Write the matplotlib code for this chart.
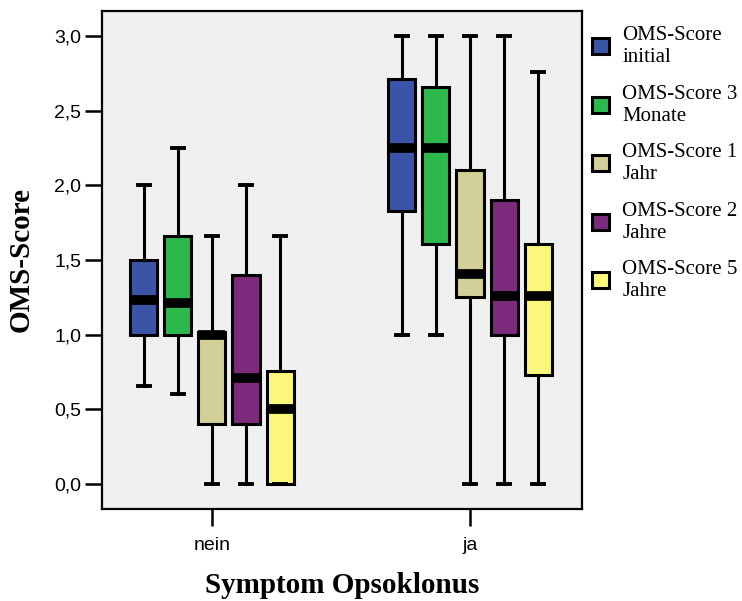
import matplotlib
matplotlib.use("Agg")
import matplotlib.pyplot as plt
from matplotlib.patches import Patch

groups = ["nein", "ja"]
series = ["OMS-Score\ninitial", "OMS-Score 3\nMonate", "OMS-Score 1\nJahr",
          "OMS-Score 2\nJahre", "OMS-Score 5\nJahre"]
colors = ["#3a55a8", "#2db84b", "#d3cf98", "#7b2a7c", "#faf77a"]

# box stats per group: (whislo, q1, median, q3, whishi) for each series
nein_stats = [
    (0.66, 1.00, 1.23, 1.50, 2.00),
    (0.60, 1.00, 1.21, 1.66, 2.25),
    (0.00, 0.40, 1.00, 1.02, 1.66),
    (0.00, 0.40, 0.71, 1.40, 2.00),
    (0.00, 0.00, 0.50, 0.76, 1.66),
]
ja_stats = [
    (1.00, 1.83, 2.25, 2.71, 3.00),
    (1.00, 1.61, 2.25, 2.66, 3.00),
    (0.00, 1.25, 1.41, 2.10, 3.00),
    (0.00, 1.00, 1.26, 1.90, 3.00),
    (0.00, 0.73, 1.26, 1.61, 2.76),
]
yticks = [0.0, 0.5, 1.0, 1.5, 2.0, 2.5, 3.0]

fig = plt.figure(figsize=(7.42, 6.01), dpi=100)
ax = fig.add_axes([102 / 742, 1 - 509 / 601, 480 / 742, 498 / 601])
ax.set_facecolor("#f0f0f0")

step = 0.132
width = 0.105
for gi, stats in enumerate([nein_stats, ja_stats]):
    for si, (lo, q1, med, q3, hi) in enumerate(stats):
        pos = gi + (si - 2) * step
        d = dict(whislo=lo, q1=q1, med=med, q3=q3, whishi=hi, fliers=[])
        bp = ax.bxp([d], positions=[pos], widths=width, patch_artist=True,
                    showfliers=False, capwidths=[0.045],
                    boxprops=dict(facecolor=colors[si], edgecolor="black", linewidth=2.2),
                    whiskerprops=dict(color="black", linewidth=2.2),
                    capprops=dict(color="black", linewidth=2.8),
                    medianprops=dict(color="black", linewidth=7, solid_capstyle="butt"))

ax.set_xlim(-0.426, 1.434)
ax.set_ylim(-0.167, 3.168)
ax.set_xticks([0, 1])
ax.set_xticklabels(groups, fontsize=14, family="Liberation Sans")
ax.set_yticks(yticks)
ax.set_yticklabels([f"{v:.1f}".replace(".", ",") for v in yticks],
                   fontsize=14, family="Liberation Sans")
ax.tick_params(axis="both", length=12, width=1.8, color="black", pad=3)
ax.tick_params(axis="x", pad=8)
for s in ax.spines.values():
    s.set_linewidth(1.6)

ax.set_ylabel("OMS-Score", fontsize=21, fontweight="bold", family="Liberation Serif",
              labelpad=14)
ax.set_xlabel("Symptom Opsoklonus", fontsize=21, fontweight="bold",
              family="Liberation Serif", labelpad=13)

handles = [Patch(facecolor=c, edgecolor="black", linewidth=2.2) for c in colors]
fig.legend(handles, series, loc="upper left", bbox_to_anchor=(586 / 742, 1 - 20 / 601),
           frameon=False, handlelength=0.8, handleheight=0.8, handletextpad=0.65,
           labelspacing=0.85, borderaxespad=0, borderpad=0.3,
           prop=dict(family="Liberation Serif", size=15))

fig.savefig("out.png", dpi=100, facecolor="white")
